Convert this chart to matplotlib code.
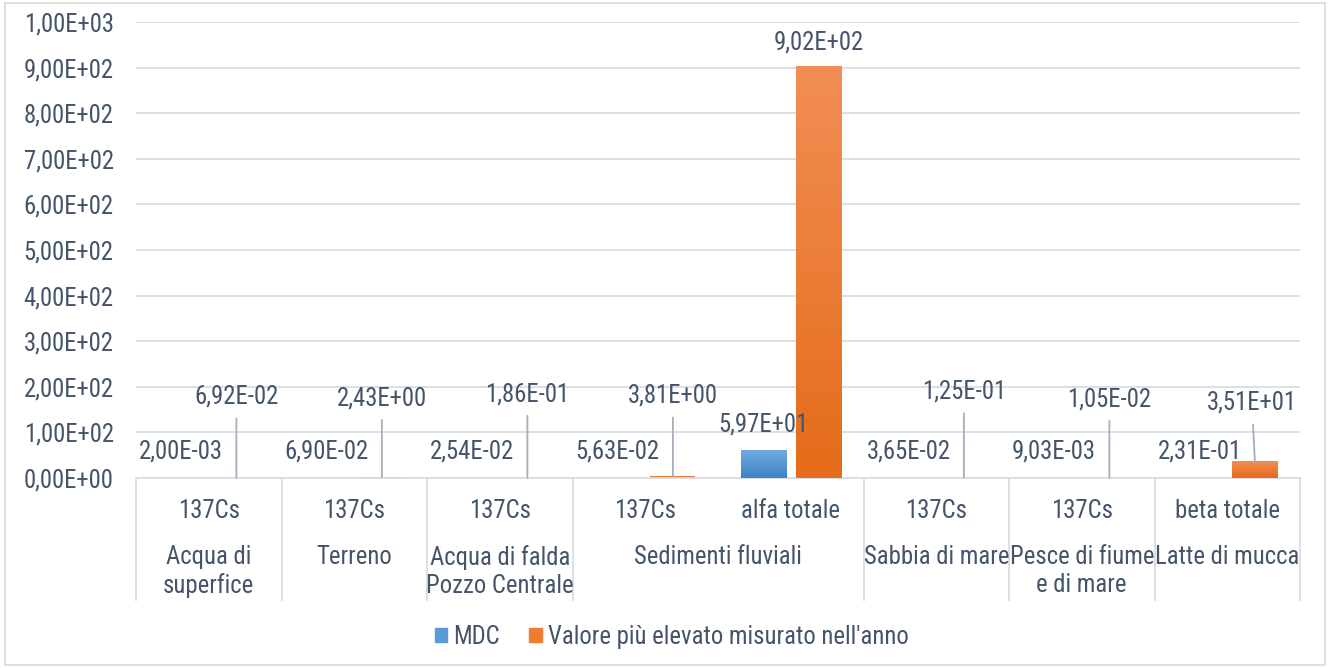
import matplotlib.pyplot as plt
import numpy as np
from matplotlib.patches import Patch, Rectangle
from matplotlib.colors import LinearSegmentedColormap
from matplotlib.transforms import blended_transform_factory

plt.rcParams['font.family'] = ['Roboto Condensed', 'Liberation Sans', 'DejaVu Sans']

# data
analiti = ['137Cs', '137Cs', '137Cs', '137Cs', 'alfa totale', '137Cs', '137Cs', 'beta totale']
matrici = ['Acqua di\nsuperfice', 'Terreno', 'Acqua di falda\nPozzo Centrale', 'Sedimenti fluviali',
           'Sabbia di mare', 'Pesce di fiume\ne di mare', 'Latte di mucca']
matrici_n = [1, 1, 1, 2, 1, 1, 1]   # analytes per matrix
mdc = [2.00e-03, 6.90e-02, 2.54e-02, 5.63e-02, 5.97e+01, 3.65e-02, 9.03e-03, 2.31e-01]
valore = [6.92e-02, 2.43e+00, 1.86e-01, 3.81e+00, 9.02e+02, 1.25e-01, 1.05e-02, 3.51e+01]
yticks = np.arange(0, 1001, 100)
serie = ['MDC', "Valore più elevato misurato nell'anno"]

# where Excel's moved labels sit (None = default, just above the bar)
valore_lab_y = [178, 175, 184, 180, None, 189, 173, 165]

TXT = '#44546A'
GRID = '#D9DDE4'
FS = 17.8


def sci(v):
    return f"{v:.2E}".replace('.', ',')


def gradient(ax, bars, c_top, c_bot):
    cmap = LinearSegmentedColormap.from_list('g', [c_top, c_bot])
    grad = np.linspace(0, 1, 100).reshape(-1, 1)
    for b in bars:
        x0, w, h = b.get_x(), b.get_width(), b.get_height()
        if h < 5:   # too thin for a gradient, plain fill is enough
            continue
        ax.imshow(grad, cmap=cmap, extent=(x0, x0 + w, 0, h), aspect='auto',
                  origin='upper', zorder=3)


fig = plt.figure(figsize=(13.3, 6.68), dpi=100)
ax = fig.add_axes([136 / 1330, 1 - 478 / 668, (1300 - 136) / 1330, 456 / 668])

x = np.arange(len(analiti))
w = 0.31
b1 = ax.bar(x - 0.19, mdc, w, color='#5B9BD5', zorder=2)
b2 = ax.bar(x + 0.19, valore, w, color='#ED7D31', zorder=2)
gradient(ax, b1, '#71A9DE', '#3F84C8')
gradient(ax, b2, '#F28E55', '#E46C1A')

ax.set_xlim(-0.5, len(analiti) - 0.5)
ax.set_ylim(0, 1000)
ax.set_yticks(yticks)
ax.set_yticklabels([sci(v) for v in yticks], fontsize=FS, color=TXT)
ax.tick_params(axis='y', length=0, pad=16)
ax.set_xticks([])
ax.grid(axis='y', color=GRID, lw=1.3, zorder=0)
for s in ['left', 'right', 'top']:
    ax.spines[s].set_visible(False)
ax.spines['bottom'].set_color(GRID)
ax.spines['bottom'].set_linewidth(1.3)

# data labels
for xi, v in zip(x - 0.19, mdc):
    ax.annotate(sci(v), (xi, v), xytext=(0, 26), textcoords='offset pixels',
                ha='center', va='center', fontsize=FS, color=TXT, zorder=5)
for i, (xi, v) in enumerate(zip(x + 0.19, valore)):
    ly = valore_lab_y[i]
    if ly is None:
        ax.annotate(sci(v), (xi, v), xytext=(0, 24), textcoords='offset pixels',
                    ha='center', va='center', fontsize=FS, color=TXT, zorder=5)
    else:
        dx = -0.02 if i == 7 else 0
        ax.annotate(sci(v), (xi, v), xytext=(xi + dx, ly), textcoords='data',
                    ha='center', va='center', fontsize=FS, color=TXT, zorder=5,
                    arrowprops=dict(arrowstyle='-', color='#A6AEBB', lw=1.3,
                                    shrinkA=5, shrinkB=0))

# multi-level category axis
tr = blended_transform_factory(ax.transData, ax.transAxes)
for xi, a in zip(x, analiti):
    ax.text(xi, -0.0725, a, transform=tr, ha='center', va='center', fontsize=FS, color=TXT)
start = 0
bounds = [-0.5]
for m, n in zip(matrici, matrici_n):
    cx = start + (n - 1) / 2
    ax.text(cx, -0.147, m, transform=tr, ha='center', va='top', fontsize=FS,
            color=TXT, linespacing=1.2)
    start += n
    bounds.append(start - 0.5)
for bx in bounds:
    ax.plot([bx, bx], [0, -0.2675], transform=tr, color=GRID, lw=1.3, clip_on=False)

handles = [Patch(color='#5B9BD5'), Patch(color='#ED7D31')]
fig.legend(handles, serie, loc='center', bbox_to_anchor=(0.505, 1 - 637 / 668), ncol=2,
           frameon=False, fontsize=FS, labelcolor=TXT, handlelength=0.5, handleheight=0.5,
           handletextpad=0.25, columnspacing=1.2)

fig.patches.append(Rectangle((0.004, 0.004), 0.992, 0.992, transform=fig.transFigure,
                             fill=False, edgecolor='#D9D9D9', lw=1.2))

fig.savefig('out.png', dpi=100)
